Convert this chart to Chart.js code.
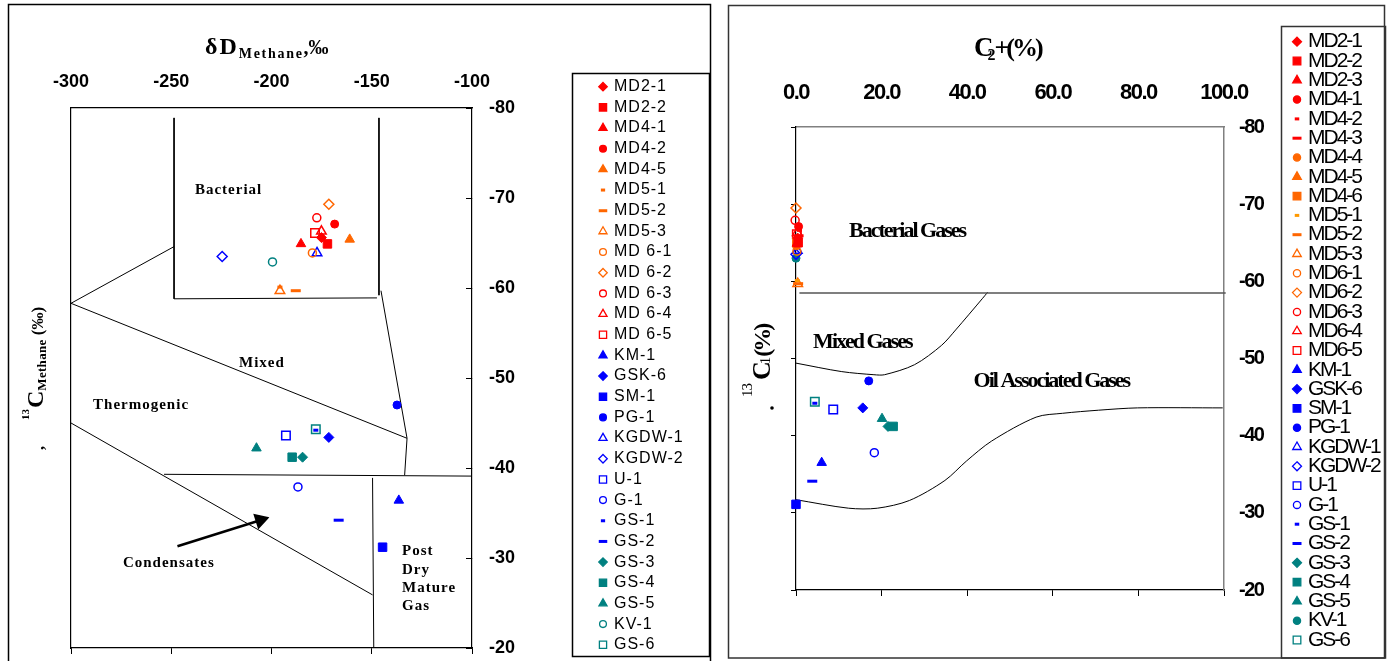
<!DOCTYPE html>
<html>
<head>
<meta charset="utf-8">
<script src="https://cdn.jsdelivr.net/npm/chart.js@4.4.1/dist/chart.umd.min.js"></script>
<style>
  html, body { margin: 0; padding: 0; background: #fff; }
  #wrap { position: relative; width: 1392px; height: 661px; overflow: hidden; }
  canvas { position: absolute; top: 0; }
  #left { left: 0; }
  #right { left: 720px; }
</style>
</head>
<body>
<div id="wrap">
  <canvas id="left" width="720" height="661"></canvas>
  <canvas id="right" width="672" height="661"></canvas>
</div>
<script>
// Left panel: dD methane vs d13C methane
const leftSamples = ['MD2-1', 'MD2-2', 'MD4-1', 'MD4-2', 'MD4-5', 'MD5-1', 'MD5-2', 'MD5-3', 'MD 6-1', 'MD 6-2', 'MD 6-3', 'MD 6-4', 'MD 6-5', 'KM-1', 'GSK-6', 'SM-1', 'PG-1', 'KGDW-1', 'KGDW-2', 'U-1', 'G-1', 'GS-1', 'GS-2', 'GS-3', 'GS-4', 'GS-5', 'KV-1', 'GS-6'];
const leftDeltaD = [-175.1, -172.1, -185.3, -168.5, -161.0, -195.8, -187.9, -195.8, -179.6, -171.4, -177.4, -175.1, -178.3, -136.5, -171.4, -144.6, -137.4, -177.3, -224.6, -192.8, -186.8, -177.9, -166.5, -184.5, -189.7, -207.5, -199.5, -177.9];
const leftC13 = [-65.6, -64.9, -64.9, -67.1, -65.4, -60.1, -59.7, -59.7, -63.9, -69.3, -67.8, -66.3, -66.1, -36.4, -43.4, -31.2, -47.0, -63.9, -63.5, -43.6, -37.9, -44.2, -34.2, -41.2, -41.2, -42.2, -62.9, -44.3];

// Left panel: zone boundaries [dD, d13C]
const bacterialBox = [[-248.6, -78.9], [-248.6, -58.8], [-147.4, -58.9]];
const bacterialRight = [[-146.4, -78.9], [-146.4, -59.2]];
const mixedWedge = [[-248.6, -64.6], [-300, -58.3], [-132.4, -43.3]];
const mixedRight = [[-145.4, -59.7], [-132.4, -43.3], [-133.6, -39.2]];
const condensateTop = [[-253.6, -39.3], [-100, -39.1]];
const thermogenicLow = [[-300, -45.0], [-149.6, -25.9]];
const postMatureLeft = [[-149.6, -38.9], [-149.0, -20]];
const condensateArrow = [[-246.9, -31.3], [-205.6, -34.2]];
const leftZones = [['Bacterial', -238.2, -70.9], ['Mixed', -216.2, -51.7], ['Thermogenic', -289.0, -47.0], ['Condensates', -274.1, -29.4], ['Post', -134.9, -30.8], ['Dry', -134.9, -28.7], ['Mature', -134.9, -26.7], ['Gas', -134.9, -24.6]];

// Right panel: C2+ (%) vs d13C1
const rightSamples = ['MD2-1', 'MD2-2', 'MD2-3', 'MD4-1', 'MD4-2', 'MD4-3', 'MD4-4', 'MD4-5', 'MD4-6', 'MD5-1', 'MD5-2', 'MD5-3', 'MD6-1', 'MD6-2', 'MD6-3', 'MD6-4', 'MD6-5', 'KM-1', 'GSK-6', 'SM-1', 'PG-1', 'KGDW-1', 'KGDW-2', 'U-1', 'G-1', 'GS-1', 'GS-2', 'GS-3', 'GS-4', 'GS-5', 'KV-1', 'GS-6'];
const rightC2plus = [0.4, 0.5, 0.2, 0.6, 0.8, 0.6, 0.1, 0.3, 0.2, 0.3, 0.5, 0.4, 0.2, 0.0, -0.2, 0.3, 0.2, 6.0, 15.6, 0.0, 17.0, 0.3, 0.0, 8.7, 18.3, 4.4, 3.8, 21.5, 22.7, 20.1, 0.0, 4.4];
const rightC13 = [-65.6, -65.0, -64.9, -67.1, -66.6, -65.9, -64.6, -65.4, -65.1, -60.1, -59.7, -59.7, -63.9, -69.5, -67.9, -66.3, -66.1, -36.5, -43.6, -31.1, -47.1, -64.0, -63.5, -43.4, -37.8, -44.2, -34.1, -41.2, -41.2, -42.2, -63.0, -44.4];

// Right panel: zone boundaries [C2+, d13C]
const bacterialLimit = [[0.8, -58.5], [100.4, -58.5]];
const mixedCurve = [[0, -49.4], [10.7, -48.3], [18.2, -47.9], [20.7, -47.9], [27.7, -49.2], [34.0, -51.7], [37.3, -53.7], [43.6, -57.8], [44.8, -58.6]];
const oilCurve = [[0, -31.7], [12.3, -30.6], [19.0, -30.6], [26.5, -31.6], [34.8, -34.2], [39.8, -36.7], [45.7, -39.3], [56.1, -42.4], [62.3, -42.9], [70.7, -43.3], [79.8, -43.6], [99.7, -43.6]];
const rightZones = [['Bacterial Gases', 12.4, -66.5], ['Mixed Gases', 4.0, -52.1], ['Oil Associated Gases', 41.5, -47.0]];

const RED = '#FF0000';
const ORANGE = '#FF6600';
const AMBER = '#FF9900';
const BLUE = '#0000FF';
const TEAL = '#008080';

// marker per sample: [shape, colour, filled]
const leftMarks = [
  ['rectRot', RED, true], ['rect', RED, true], ['triangle', RED, true], ['circle', RED, true],
  ['triangle', ORANGE, true], ['short', ORANGE, true], ['line', ORANGE, true], ['triangle', ORANGE, false],
  ['circle', ORANGE, false], ['rectRot', ORANGE, false], ['circle', RED, false], ['triangle', RED, false], ['rect', RED, false],
  ['triangle', BLUE, true], ['rectRot', BLUE, true], ['rect', BLUE, true], ['circle', BLUE, true],
  ['triangle', BLUE, false], ['rectRot', BLUE, false], ['rect', BLUE, false], ['circle', BLUE, false],
  ['short', BLUE, true], ['line', BLUE, true],
  ['rectRot', TEAL, true], ['rect', TEAL, true], ['triangle', TEAL, true], ['circle', TEAL, false], ['rect', TEAL, false]
];
const rightMarks = [
  ['rectRot', RED, true], ['rect', RED, true], ['triangle', RED, true], ['circle', RED, true],
  ['short', RED, true], ['line', RED, true], ['circle', ORANGE, true], ['triangle', ORANGE, true], ['rect', ORANGE, true],
  ['short', AMBER, true], ['line', ORANGE, true], ['triangle', ORANGE, false], ['circle', ORANGE, false], ['rectRot', ORANGE, false],
  ['circle', RED, false], ['triangle', RED, false], ['rect', RED, false],
  ['triangle', BLUE, true], ['rectRot', BLUE, true], ['rect', BLUE, true], ['circle', BLUE, true],
  ['triangle', BLUE, false], ['rectRot', BLUE, false], ['rect', BLUE, false], ['circle', BLUE, false],
  ['short', BLUE, true], ['line', BLUE, true],
  ['rectRot', TEAL, true], ['rect', TEAL, true], ['triangle', TEAL, true], ['circle', TEAL, true], ['rect', TEAL, false]
];

const SIZES = { circle: 4, rect: 6, rectRot: 5, triangle: 5.5, line: 5, short: 2.5 };
const SANS = "'Liberation Sans', Arial, sans-serif";
const SERIF = "'Liberation Serif', 'Times New Roman', serif";

const toXY = pts => pts.map(([x, y]) => ({ x, y }));

// one dataset per sample, so each gets its own marker and legend row
function buildSamples(names, xs, ys, marks) {
  return names.map((name, i) => {
    const [shape, color, filled] = marks[i];
    const dash = shape === 'line' || shape === 'short';
    return {
      label: name,
      data: [{ x: xs[i], y: ys[i] }],
      pointStyle: dash ? 'line' : shape,
      pointRadius: SIZES[shape],
      pointBorderColor: color,
      pointBackgroundColor: filled ? color : 'rgba(0,0,0,0)',
      pointBorderWidth: dash ? 3 : (filled ? 1 : 1.5),
      clip: false,
      legendShape: shape,
      legendColor: color,
      legendFilled: filled
    };
  });
}

function boundary(pts, extra) {
  return Object.assign({
    label: '',
    data: toXY(pts),
    showLine: true,
    borderColor: '#000',
    borderWidth: 1,
    pointRadius: 0,
    tension: 0,
    fill: false,
    clip: false
  }, extra || {});
}

function drawMarker(ctx, shape, x, y, color, filled, k) {
  const r = SIZES[shape] * k;
  const dash = shape === 'line' || shape === 'short';
  ctx.save();
  ctx.strokeStyle = color;
  ctx.fillStyle = color;
  ctx.lineWidth = dash ? 3 : 1.3;
  ctx.beginPath();
  if (shape === 'circle') {
    ctx.arc(x, y, r, 0, Math.PI * 2);
  } else if (shape === 'rect') {
    const s = r * Math.SQRT1_2;
    ctx.rect(x - s, y - s, 2 * s, 2 * s);
  } else if (shape === 'rectRot') {
    ctx.moveTo(x, y - r); ctx.lineTo(x + r, y); ctx.lineTo(x, y + r); ctx.lineTo(x - r, y); ctx.closePath();
  } else if (shape === 'triangle') {
    ctx.moveTo(x, y - r); ctx.lineTo(x + r * 0.866, y + r / 2); ctx.lineTo(x - r * 0.866, y + r / 2); ctx.closePath();
  } else {
    ctx.moveTo(x - r, y); ctx.lineTo(x + r, y);
  }
  if (filled && !dash) ctx.fill();
  ctx.stroke();
  ctx.restore();
}

// text pieces with their own font and baseline shift
function drawRuns(ctx, x, y, runs) {
  let cx = x;
  runs.forEach(([text, font, dy, spacing, gap]) => {
    ctx.font = font;
    ctx.letterSpacing = spacing || '0px';
    ctx.fillText(text, cx, y + (dy || 0));
    cx += ctx.measureText(text).width + (gap || 0);
  });
}

// fixed axis box, no extra padding requested from the layout
function fixSize(w, h) {
  return s => {
    if (w !== null) s.width = w;
    if (h !== null) s.height = h;
    s.paddingTop = 0;
    s.paddingBottom = 0;
    s.paddingLeft = 0;
    s.paddingRight = 0;
  };
}

const panelPlugin = {
  id: 'panel',
  beforeDraw(chart, args, o) {
    const ctx = chart.ctx;
    ctx.save();
    ctx.fillStyle = '#fff';
    ctx.fillRect(0, 0, chart.width, chart.height);
    ctx.strokeStyle = o.frameColor;
    ctx.lineWidth = 1.5;
    ctx.strokeRect(...o.frame);
    ctx.restore();
    ctx.letterSpacing = o.tickSpacing || '0px';
  },
  afterDatasetsDraw(chart, args, o) {
    const { ctx, scales: { x, y } } = chart;
    ctx.save();
    ctx.font = o.zoneFont;
    ctx.letterSpacing = o.zoneSpacing;
    ctx.fillStyle = '#000';
    ctx.textBaseline = 'middle';
    ctx.textAlign = 'left';
    o.zones.forEach(([text, vx, vy]) => ctx.fillText(text, x.getPixelForValue(vx), y.getPixelForValue(vy)));
    ctx.restore();
  },
  afterDraw(chart, args, o) {
    const ctx = chart.ctx;
    const lg = o.legend;
    ctx.save();
    ctx.strokeStyle = lg.boxColor;
    ctx.lineWidth = 1.5;
    ctx.strokeRect(...lg.box);
    ctx.font = lg.font;
    ctx.letterSpacing = lg.spacing;
    ctx.textBaseline = 'middle';
    chart.data.datasets.filter(d => d.legendShape).forEach((d, i) => {
      const yy = lg.top + i * lg.step;
      drawMarker(ctx, d.legendShape, lg.markerX, yy, d.legendColor, d.legendFilled, lg.scale);
      ctx.fillStyle = '#000';
      ctx.fillText(d.label, lg.textX, yy);
    });
    ctx.restore();

    // axis titles
    ctx.save();
    ctx.fillStyle = '#000';
    ctx.textBaseline = 'alphabetic';
    drawRuns(ctx, o.title.x, o.title.y, o.title.runs);
    ctx.translate(o.yTitle.x, o.yTitle.y);
    ctx.rotate(-Math.PI / 2);
    drawRuns(ctx, 0, 0, o.yTitle.runs);
    if (o.yTitle.comma) {
      ctx.font = 'bold 16px ' + SERIF;
      ctx.letterSpacing = '0px';
      ctx.fillText(',', o.yTitle.comma[0], o.yTitle.comma[1]);
    }
    ctx.restore();
    if (o.mark) {
      ctx.save();
      ctx.fillStyle = '#000';
      ctx.beginPath();
      ctx.arc(o.mark[0], o.mark[1], 1.8, 0, Math.PI * 2);
      ctx.fill();
      ctx.restore();
    }
  }
};

function axisFont(size) {
  return { family: SANS, size: size, weight: 'bold' };
}

// ---- left chart
new Chart(document.getElementById('left'), {
  type: 'scatter',
  data: {
    datasets: [
      ...buildSamples(leftSamples, leftDeltaD, leftC13, leftMarks),
      boundary(bacterialBox),
      boundary(bacterialRight),
      boundary(mixedWedge),
      boundary(mixedRight),
      boundary(condensateTop),
      boundary(thermogenicLow),
      boundary(postMatureLeft),
      boundary(condensateArrow, {
        borderWidth: 2.5,
        pointStyle: 'triangle',
        pointRadius: c => (c.dataIndex === condensateArrow.length - 1 ? 7 : 0),
        pointBackgroundColor: '#000',
        pointBorderColor: '#000',
        pointRotation: c => {
          const { x, y } = c.chart.scales;
          const [a, b] = condensateArrow;
          const dx = x.getPixelForValue(b[0]) - x.getPixelForValue(a[0]);
          const dy = y.getPixelForValue(b[1]) - y.getPixelForValue(a[1]);
          return Math.atan2(dy, dx) * 180 / Math.PI + 90;
        }
      })
    ]
  },
  options: {
    responsive: false,
    animation: false,
    devicePixelRatio: 1,
    events: [],
    layout: { padding: { left: 71, top: 0, right: 0, bottom: 13 } },
    plugins: {
      legend: { display: false },
      tooltip: { enabled: false },
      panel: {
        frame: [8.5, 4.5, 702, 670],
        frameColor: '#000',
        zones: leftZones,
        zoneFont: 'bold 15px ' + SERIF,
        zoneSpacing: '1px',
        legend: {
          box: [572.5, 73.5, 137, 583], boxColor: '#000',
          top: 86.7, step: 20.67, markerX: 603, textX: 614, scale: 0.85,
          font: '16px ' + SANS, spacing: '1px'
        },
        title: {
          x: 205, y: 54,
          runs: [['δD', 'bold 24px ' + SERIF, 0, '2px'], ['Methane', 'bold 14px ' + SERIF, 3.5, '1.7px'], [',‰', 'bold 20px ' + SERIF, 0, '0px']]
        },
        yTitle: {
          x: 43, y: 420,
          comma: [-30, 1],
          runs: [['13', 'bold 11px ' + SERIF, -14, '0px', 1], ['C', 'bold 24px ' + SERIF, 0, '0px'], ['Methane', 'bold 13px ' + SERIF, 3, '0.3px'], [' (‰)', 'bold 17px ' + SERIF, 0, '0px']]
        }
      }
    },
    scales: {
      x: {
        type: 'linear', position: 'top', min: -300, max: -100,
        ticks: { stepSize: 50, padding: 15, color: '#000', font: axisFont(18) },
        grid: { drawOnChartArea: false, drawTicks: false },
        border: { color: '#000', width: 1.2 },
        afterFit: fixSize(null, 108)
      },
      xb: {
        type: 'linear', position: 'bottom', min: -300, max: -100,
        ticks: { stepSize: 50, display: false },
        grid: { drawOnChartArea: false, tickLength: 6, color: '#000' },
        border: { color: '#000', width: 1.2 },
        afterFit: fixSize(null, 0)
      },
      y: {
        type: 'linear', position: 'right', reverse: true, min: -80, max: -20,
        ticks: { stepSize: 10, padding: 23, color: '#000', font: axisFont(18) },
        grid: { drawOnChartArea: false, tickLength: -6, color: '#000' },
        border: { color: '#000', width: 1.2 },
        afterFit: fixSize(248, null)
      },
      yl: {
        type: 'linear', position: 'left', reverse: true, min: -80, max: -20,
        ticks: { display: false },
        grid: { drawOnChartArea: false, drawTicks: false },
        border: { color: '#000', width: 1.2 },
        afterFit: fixSize(0, null)
      }
    }
  },
  plugins: [panelPlugin]
});

// ---- right chart
new Chart(document.getElementById('right'), {
  type: 'scatter',
  data: {
    datasets: [
      ...buildSamples(rightSamples, rightC2plus, rightC13, rightMarks),
      boundary(bacterialLimit, { borderColor: '#555', borderWidth: 1.5 }),
      boundary(mixedCurve, { tension: 0.3 }),
      boundary(oilCurve, { tension: 0.3 })
    ]
  },
  options: {
    responsive: false,
    animation: false,
    devicePixelRatio: 1,
    events: [],
    layout: { padding: { left: 76, top: 0, right: 0, bottom: 71 } },
    plugins: {
      legend: { display: false },
      tooltip: { enabled: false },
      panel: {
        frame: [8.5, 5.5, 656, 652.5],
        frameColor: '#333',
        tickSpacing: '-1.5px',
        zones: rightZones,
        zoneFont: 'bold 22px ' + SERIF,
        zoneSpacing: '-2px',
        legend: {
          box: [561.5, 26.5, 104, 631.5], boxColor: '#333',
          top: 41.7, step: 19.3, markerX: 577, textX: 588, scale: 0.9,
          font: '21px ' + SANS, spacing: '-2px'
        },
        title: {
          x: 254, y: 56,
          runs: [['C', 'bold 27px ' + SERIF, 0, '0px', -6], ['2', 'bold 16px ' + SERIF, 4, '0px', -1], ['+(%)', 'bold 26px ' + SERIF, 0, '-3px']]
        },
        yTitle: {
          x: 50, y: 397,
          runs: [['13', '15px ' + SERIF, -18, '-1px', 4], ['C', 'bold 26px ' + SERIF, 0, '0px', -3], ['1', '15px ' + SERIF, 0, '0px'], ['(%)', 'bold 24px ' + SERIF, 0, '-3px']]
        },
        mark: [52, 408]
      }
    },
    scales: {
      x: {
        type: 'linear', position: 'top', min: 0, max: 100,
        ticks: { stepSize: 20, padding: 21, color: '#000', font: axisFont(22), callback: v => v.toFixed(1) },
        grid: { drawOnChartArea: false, drawTicks: false },
        border: { color: '#808080', width: 1.5 },
        afterFit: fixSize(null, 127)
      },
      xb: {
        type: 'linear', position: 'bottom', min: 0, max: 100,
        ticks: { stepSize: 20, display: false },
        grid: { drawOnChartArea: false, tickLength: 6, color: '#000' },
        border: { color: '#000', width: 1.2 },
        afterFit: fixSize(null, 0)
      },
      y: {
        type: 'linear', position: 'right', reverse: true, min: -80, max: -20,
        ticks: { stepSize: 10, padding: 15, color: '#000', font: axisFont(20) },
        grid: { drawOnChartArea: false, drawTicks: false },
        border: { color: '#808080', width: 1.5 },
        afterFit: fixSize(168, null)
      },
      yl: {
        type: 'linear', position: 'left', reverse: true, min: -80, max: -20,
        ticks: { stepSize: 10, display: false },
        grid: { drawOnChartArea: false, tickLength: 5, color: '#000' },
        border: { color: '#000', width: 1.2 },
        afterFit: fixSize(0, null)
      }
    }
  },
  plugins: [panelPlugin]
});
</script>
</body>
</html>
